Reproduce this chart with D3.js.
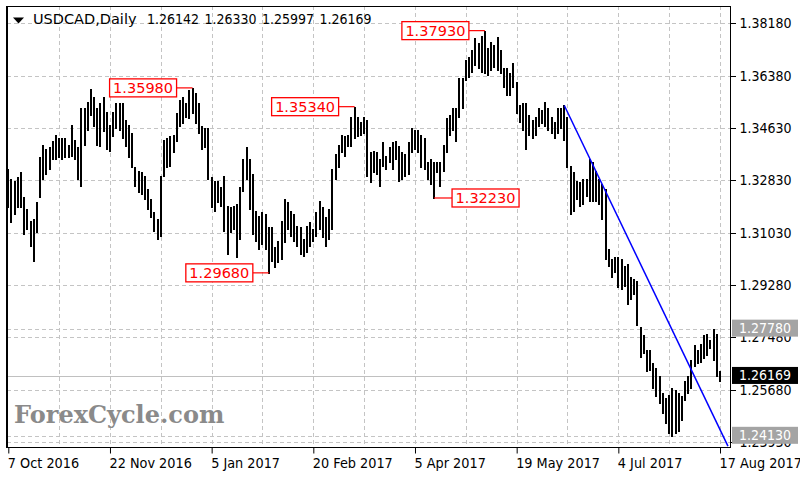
<!doctype html>
<html lang="en">
<head>
<meta charset="utf-8">
<title>USDCAD Daily</title>
<script src="https://d3js.org/d3.v7.min.js"></script>
<style>
  body { margin: 0; background: #fff; }
  text { font-family: 'DejaVu Sans Condensed', 'DejaVu Sans', sans-serif; font-stretch: condensed; }
  .grid line { stroke: #c4c4c4; stroke-dasharray: 4,3; shape-rendering: crispEdges; }
  .bar { stroke: #000; stroke-width: 2; shape-rendering: crispEdges; }
</style>
</head>
<body>
<div id="chart"></div>
<script>
// daily bars, 7 Oct 2016 .. 17 Aug 2017 (one value per trading day)
var highs = [
1.3321,1.3287,1.3280,1.3294,1.3311,1.3226,1.3185,1.3144,1.3151,1.3209,
1.3361,1.3402,1.3389,1.3395,1.3416,1.3439,1.3429,1.3429,1.3429,1.3405,
1.3473,1.3422,1.3395,1.3531,1.3531,1.3551,1.3595,1.3568,1.3531,1.3548,
1.3568,1.3517,1.3473,1.3517,1.3548,1.3548,1.3548,1.3490,1.3473,1.3446,
1.3328,1.3314,1.3311,1.3297,1.3253,1.3219,1.3175,1.3151,1.3297,1.3422,
1.3429,1.3433,1.3439,1.3514,1.3558,1.3568,1.3548,1.3592,1.3598,1.3582,
1.3548,1.3467,1.3463,1.3463,1.3294,1.3280,1.3280,1.3260,1.3297,1.3195,
1.3192,1.3195,1.3202,1.3260,1.3355,1.3395,1.3355,1.3304,1.3178,1.3161,
1.3175,1.3168,1.3124,1.3124,1.3056,1.3077,1.3144,1.3219,1.3209,1.3178,
1.3168,1.3128,1.3124,1.3083,1.3128,1.3141,1.3117,1.3175,1.3212,1.3192,
1.3158,1.3185,1.3321,1.3372,1.3405,1.3439,1.3433,1.3439,1.3500,1.3534,
1.3500,1.3483,1.3500,1.3490,1.3378,1.3382,1.3378,1.3355,1.3412,1.3365,
1.3395,1.3412,1.3416,1.3399,1.3378,1.3372,1.3412,1.3463,1.3456,1.3456,
1.3439,1.3429,1.3344,1.3355,1.3344,1.3344,1.3344,1.3405,1.3497,1.3507,
1.3531,1.3531,1.3633,1.3633,1.3694,1.3704,1.3728,1.3768,1.3751,1.3775,
1.3793,1.3734,1.3755,1.3744,1.3772,1.3728,1.3667,1.3667,1.3650,1.3683,
1.3619,1.3541,1.3548,1.3548,1.3507,1.3490,1.3500,1.3531,1.3524,1.3551,
1.3531,1.3500,1.3483,1.3531,1.3531,1.3540,1.3500,1.3331,1.3311,1.3280,
1.3277,1.3287,1.3287,1.3355,1.3344,1.3314,1.3287,1.3270,1.3253,1.3050,
1.3016,1.3022,1.3022,1.3016,1.2992,1.2999,1.2955,1.2948,1.2941,1.2785,
1.2755,1.2704,1.2704,1.2660,1.2643,1.2616,1.2558,1.2541,1.2551,1.2575,
1.2568,1.2558,1.2548,1.2599,1.2616,1.2670,1.2721,1.2704,1.2727,1.2755,
1.2761,1.2738,1.2778,1.2761,1.2633
];
var lows = [
1.3192,1.3141,1.3168,1.3192,1.3192,1.3100,1.3117,1.3060,1.3009,1.3107,
1.3226,1.3287,1.3304,1.3321,1.3355,1.3355,1.3361,1.3355,1.3361,1.3361,
1.3365,1.3355,1.3287,1.3263,1.3405,1.3456,1.3507,1.3467,1.3405,1.3399,
1.3450,1.3389,1.3382,1.3433,1.3463,1.3456,1.3429,1.3399,1.3361,1.3328,
1.3263,1.3243,1.3236,1.3219,1.3185,1.3158,1.3111,1.3083,1.3094,1.3297,
1.3328,1.3331,1.3378,1.3416,1.3467,1.3480,1.3500,1.3497,1.3514,1.3480,
1.3446,1.3389,1.3395,1.3287,1.3192,1.3178,1.3209,1.3195,1.3111,1.3033,
1.3107,1.3117,1.3022,1.3083,1.3246,1.3287,1.3185,1.3100,1.3077,1.3050,
1.3066,1.3050,1.2968,1.3009,1.2989,1.3005,1.3016,1.3073,1.3117,1.3094,
1.3077,1.3060,1.3033,1.3026,1.3039,1.3060,1.3077,1.3094,1.3117,1.3090,
1.3060,1.3083,1.3117,1.3287,1.3328,1.3378,1.3365,1.3399,1.3399,1.3429,
1.3433,1.3439,1.3446,1.3297,1.3277,1.3311,1.3304,1.3263,1.3331,1.3321,
1.3344,1.3321,1.3355,1.3280,1.3287,1.3297,1.3304,1.3378,1.3389,1.3378,
1.3328,1.3321,1.3287,1.3270,1.3223,1.3311,1.3263,1.3314,1.3378,1.3439,
1.3456,1.3416,1.3500,1.3531,1.3626,1.3636,1.3653,1.3677,1.3667,1.3653,
1.3650,1.3643,1.3660,1.3670,1.3660,1.3650,1.3602,1.3575,1.3575,1.3602,
1.3514,1.3483,1.3456,1.3389,1.3439,1.3429,1.3439,1.3467,1.3480,1.3467,
1.3456,1.3446,1.3429,1.3446,1.3463,1.3422,1.3328,1.3168,1.3178,1.3219,
1.3195,1.3202,1.3229,1.3212,1.3212,1.3212,1.3202,1.3151,1.3016,1.2992,
1.2955,1.2972,1.2921,1.2914,1.2924,1.2863,1.2880,1.2897,1.2789,1.2683,
1.2694,1.2633,1.2636,1.2575,1.2548,1.2524,1.2490,1.2456,1.2422,1.2413,
1.2422,1.2429,1.2466,1.2534,1.2558,1.2575,1.2650,1.2660,1.2666,1.2677,
1.2687,1.2711,1.2670,1.2616,1.25997
];

// last bar: open high low close
var lastOHLC = [1.26142, 1.26330, 1.25997, 1.26169];

var yTicks = [1.38180,1.36380,1.34630,1.32830,1.31030,1.29280,1.27480,1.25680,1.23930];
var xTickIdx = [0,32,64,96,128,160,192,224];
var xTickLabels = ["7 Oct 2016","22 Nov 2016","5 Jan 2017","20 Feb 2017","5 Apr 2017","19 May 2017","4 Jul 2017","17 Aug 2017"];

// swing highs / lows marked on the chart
var noteIdx = [58, 82, 109, 134, 150];
var noteVal = [1.35980, 1.29680, 1.35340, 1.32230, 1.37930];
var noteSide = ["left","left","left","right","left"];

// horizontal levels
var levelVals = [1.27780, 1.24130];

// trend line (bar index, price)
var trendIdx = [175, 226.5];
var trendVal = [1.3538, 1.2378];

var n = Math.min(highs.length, lows.length);

var svg = d3.select("#chart").append("svg")
  .attr("width", 800).attr("height", 483)
  .style("display", "block").style("background", "#fff");

var L = 7, R = 730, T = 6, B = 447;

var x = d3.scaleLinear().domain([0, 224]).range([8.3, 720]);
var y = d3.scaleLinear().domain([1.23749, 1.38769]).range([B, T]);

svg.append("clipPath").attr("id", "plotclip")
  .append("rect").attr("x", L).attr("y", T).attr("width", R - L).attr("height", B - T);

// grid
var grid = svg.append("g").attr("class", "grid");
grid.selectAll(".h").data(yTicks).enter().append("line")
  .attr("x1", L).attr("x2", R)
  .attr("y1", function(d){ return Math.round(y(d)) + 0.5; })
  .attr("y2", function(d){ return Math.round(y(d)) + 0.5; });
grid.selectAll(".v").data(d3.range(16, 225, 16)).enter().append("line")
  .attr("y1", T).attr("y2", B)
  .attr("x1", function(d){ return Math.round(x(d)) + 0.5; })
  .attr("x2", function(d){ return Math.round(x(d)) + 0.5; });
grid.selectAll(".lv").data(levelVals).enter().append("line")
  .attr("x1", L).attr("x2", R)
  .attr("y1", function(d){ return Math.round(y(d)) + 0.5; })
  .attr("y2", function(d){ return Math.round(y(d)) + 0.5; });

// current price line
svg.append("line")
  .attr("x1", L).attr("x2", R)
  .attr("y1", Math.round(y(lastOHLC[3])) + 0.5).attr("y2", Math.round(y(lastOHLC[3])) + 0.5)
  .style("stroke", "#c0c0c0").style("shape-rendering", "crispEdges");

var plot = svg.append("g").attr("clip-path", "url(#plotclip)");

// bars
plot.selectAll(".bar").data(d3.range(n)).enter().append("line")
  .attr("class", "bar")
  .attr("x1", function(i){ return Math.round(x(i)); })
  .attr("x2", function(i){ return Math.round(x(i)); })
  .attr("y1", function(i){ return y(highs[i]); })
  .attr("y2", function(i){ return y(lows[i]) + 1; });

// trend line
plot.append("line")
  .attr("x1", x(trendIdx[0])).attr("y1", y(trendVal[0]))
  .attr("x2", x(trendIdx[1])).attr("y2", y(trendVal[1]))
  .style("stroke", "#0000ff").style("stroke-width", 1.5);

// watermark
svg.append("text").attr("x", 14).attr("y", 423)
  .style("font-family", "'DejaVu Serif', serif").style("font-stretch", "normal")
  .style("font-weight", "bold").style("font-size", "24px")
  .style("fill", "#8a8a8a").text("ForexCycle.com");

// notes
var bw = 67, bh = 18;
var notes = svg.append("g");
noteIdx.forEach(function(idx, k){
  var bx = x(idx), by = y(noteVal[k]);
  var left = noteSide[k] === "left";
  var rx = left ? bx - 16 - bw : bx + 18;
  notes.append("line")
    .attr("x1", bx).attr("x2", left ? rx + bw : rx)
    .attr("y1", by).attr("y2", by)
    .style("stroke", "#ff0000").style("stroke-width", 1.2);
  notes.append("rect")
    .attr("x", rx).attr("y", by - bh / 2).attr("width", bw).attr("height", bh)
    .style("fill", "#fff").style("stroke", "#ff0000").style("stroke-width", 1.3);
  notes.append("text")
    .attr("x", rx + bw / 2).attr("y", by + 5.5)
    .attr("text-anchor", "middle")
    .style("font-family", "'DejaVu Sans', sans-serif").style("font-stretch", "normal")
    .style("font-size", "14.5px").style("fill", "#ff0000")
    .text(noteVal[k].toFixed(5));
});

// frame
svg.append("rect").attr("x", L + 0.5).attr("y", T + 0.5).attr("width", R - L).attr("height", B - T)
  .style("fill", "none").style("stroke", "#000").style("shape-rendering", "crispEdges");
svg.append("line").attr("x1", L).attr("x2", L).attr("y1", T).attr("y2", B + 1)
  .style("stroke", "#000").style("stroke-width", 2).style("shape-rendering", "crispEdges");

// y axis
var yAxis = svg.append("g").attr("transform", "translate(" + (R + 0.5) + ",0)")
  .call(d3.axisRight(y).tickValues(yTicks).tickSize(5).tickPadding(4).tickFormat(d3.format(".5f")));
yAxis.select(".domain").remove();
yAxis.selectAll("line").style("shape-rendering", "crispEdges");
yAxis.selectAll("text").style("font-size", "14px").style("fill", "#000");

// x axis
var xAxis = svg.append("g").attr("transform", "translate(0," + (B + 0.5) + ")")
  .call(d3.axisBottom(x).tickValues(xTickIdx).tickSize(6).tickPadding(4)
    .tickFormat(function(d, i){ return xTickLabels[i]; }));
xAxis.select(".domain").remove();
xAxis.selectAll("text").attr("text-anchor", "start").attr("dx", -1)
  .style("font-size", "14.3px").style("fill", "#000");

// price labels on the right
var tags = svg.append("g");
function tag(v, fill){
  var cy = y(v) - 0.5;
  tags.append("rect").attr("x", 732).attr("y", cy - 8.5).attr("width", 66).attr("height", 17)
    .style("fill", fill);
  tags.append("text").attr("x", 739).attr("y", cy + 5)
    .style("font-size", "14px").style("fill", "#fff").text(v.toFixed(5));
}
levelVals.forEach(function(v){ tag(v, "#a4a4a4"); });
tag(lastOHLC[3], "#000");

// header
var head = svg.append("g");
head.append("path").attr("d", "M13,17.5 L24,17.5 L18.5,23.5 Z").style("fill", "#000");
var ht = head.append("text").attr("x", 33).attr("y", 23.5).style("font-size", "14px").style("fill", "#000");
ht.append("tspan").style("font-family", "'DejaVu Sans', sans-serif").style("font-stretch", "normal")
  .style("font-size", "14.5px").text("USDCAD,Daily");
lastOHLC.forEach(function(v, k){
  ht.append("tspan").attr("x", 147 + k * 57.5).text(v.toFixed(5));
});
</script>
</body>
</html>
